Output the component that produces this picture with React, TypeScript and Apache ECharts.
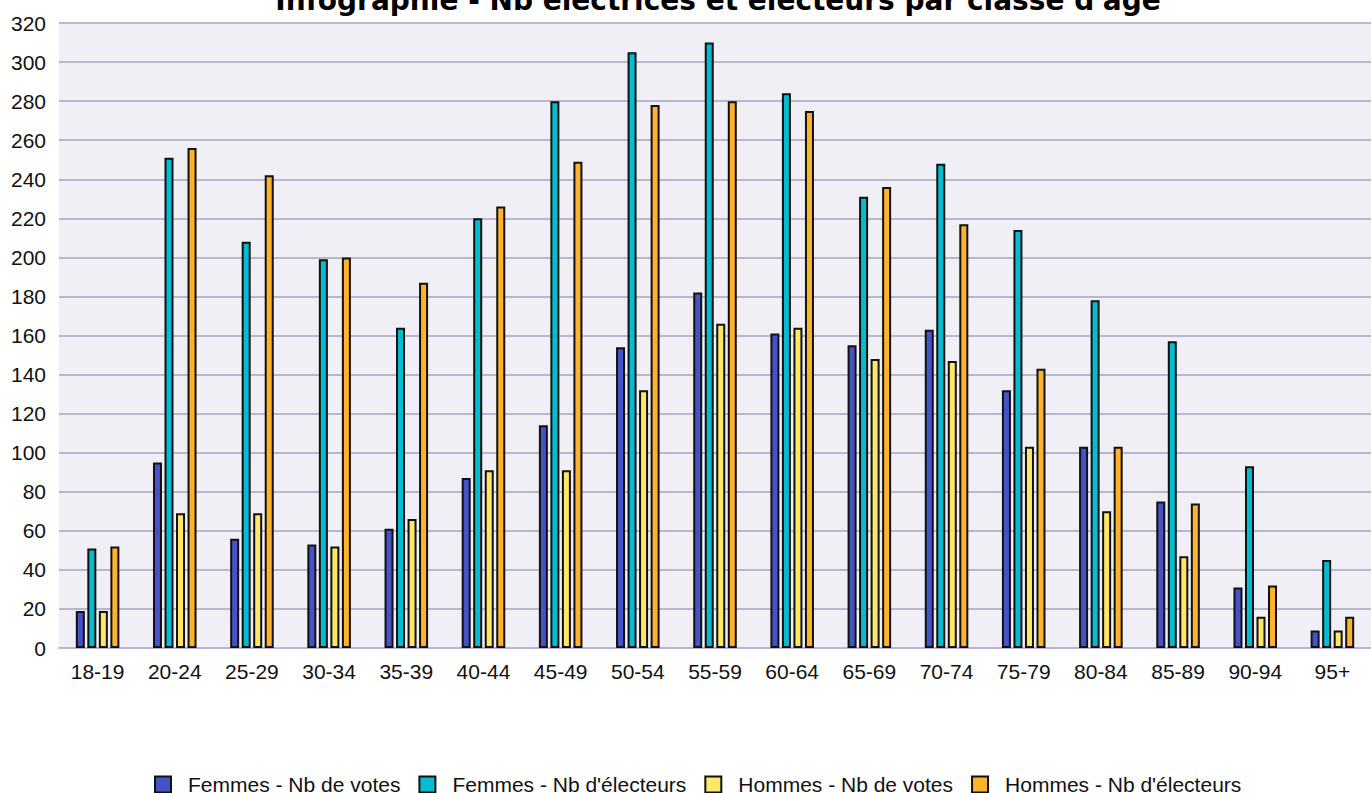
import React, { useEffect, useRef } from "react";
import * as echarts from "echarts";

const categories = ["18-19", "20-24", "25-29", "30-34", "35-39", "40-44", "45-49", "50-54", "55-59", "60-64", "65-69", "70-74", "75-79", "80-84", "85-89", "90-94", "95+"];
const femmesVotes = [19, 95, 56, 53, 61, 87, 114, 154, 182, 161, 155, 163, 132, 103, 75, 31, 9];
const femmesElecteurs = [51, 251, 208, 199, 164, 220, 280, 305, 310, 284, 231, 248, 214, 178, 157, 93, 45];
const hommesVotes = [19, 69, 69, 52, 66, 91, 91, 132, 166, 164, 148, 147, 103, 70, 47, 16, 9];
const hommesElecteurs = [52, 256, 242, 200, 187, 226, 249, 278, 280, 275, 236, 217, 143, 103, 74, 32, 16];

const seriesNames = ["Femmes - Nb de votes", "Femmes - Nb d'électeurs", "Hommes - Nb de votes", "Hommes - Nb d'électeurs"];
const seriesData = [femmesVotes, femmesElecteurs, hommesVotes, hommesElecteurs];
const colors = ["#4652C8", "#06BCD0", "#FFE766", "#FFB22C"];

const titleText = "Infographie - Nb électrices et électeurs par classe d'âge";

export default function App() {
  const ref = useRef<HTMLDivElement>(null);
  useEffect(() => {
    if (!ref.current) return;
    const chart = echarts.init(ref.current, null, { renderer: "svg" });
    const font = "Liberation Sans, Arial, sans-serif";
    chart.setOption({
      animation: false,
      backgroundColor: "#ffffff",
      color: colors,
      graphic: [
        {
          type: "text",
          x: 718,
          y: 0,
          style: {
            text: titleText,
            fontFamily: "DejaVu Sans",
            fontWeight: "bold",
            fontSize: 28,
            fill: "#000",
            textAlign: "center",
            textVerticalAlign: "middle",
          },
        },
      ],
      legend: {
        left: 149,
        top: 769,
        itemWidth: 16,
        itemHeight: 16,
        itemGap: 18,
        icon: "rect",
        textStyle: { fontFamily: font, fontSize: 21, lineHeight: 21, color: "#111", padding: [0, 0, 0, 12] },
        data: seriesNames,
      },
      grid: {
        left: 59,
        top: 23,
        width: 1323,
        height: 625,
        show: true,
        backgroundColor: "#F0EFF5",
        borderWidth: 0,
      },
      xAxis: {
        type: "category",
        data: categories,
        axisLine: { show: true, lineStyle: { color: "#B9B7CD", width: 2 } },
        axisTick: { show: false },
        axisLabel: { fontFamily: font, fontSize: 21, color: "#111", margin: 13 },
      },
      yAxis: {
        type: "value",
        min: 0,
        max: 320,
        interval: 20,
        axisLine: { show: false },
        axisTick: { show: false },
        axisLabel: { fontFamily: font, fontSize: 21, color: "#111", margin: 13 },
        splitLine: { lineStyle: { color: "#B9B7CD", width: 2 } },
      },
      series: seriesNames.map((name, i) => ({
        name,
        type: "bar",
        data: seriesData[i],
        barWidth: 9,
        barGap: "28%",
        itemStyle: { color: colors[i], borderColor: "#111", borderWidth: 2 },
      })),
    });
    return () => chart.dispose();
  }, []);
  return <div ref={ref} style={{ position: "fixed", left: 0, top: 0, width: 1371, height: 793 }} />;
}
